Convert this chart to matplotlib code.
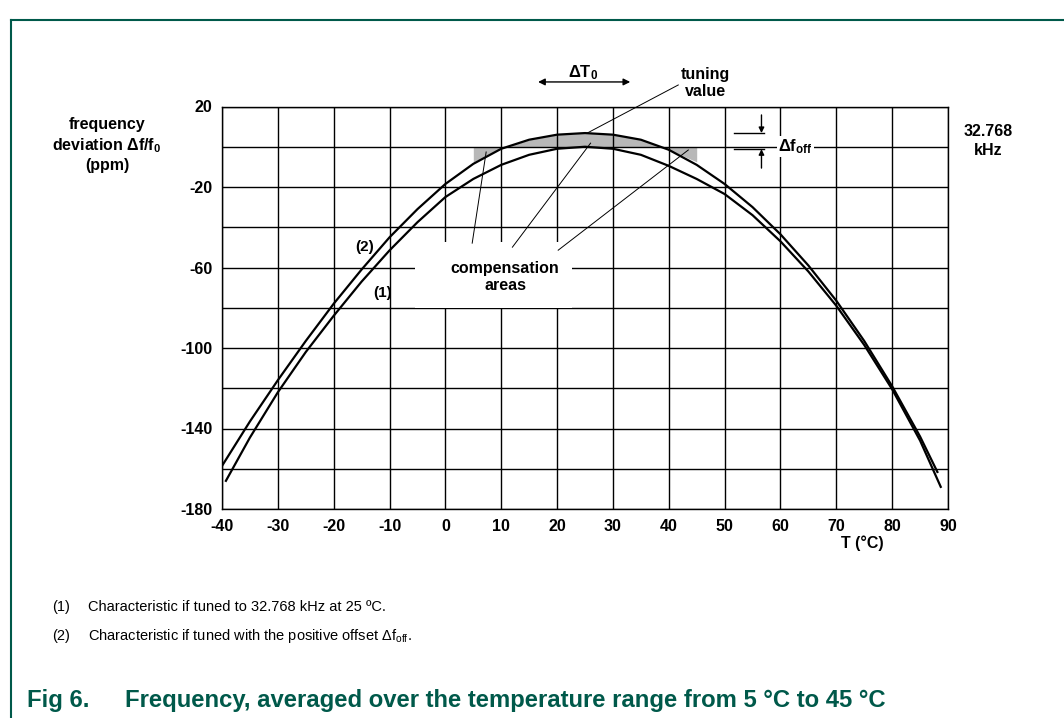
import matplotlib.pyplot as plt
from matplotlib.lines import Line2D
from matplotlib.patches import Rectangle
import numpy as np

plt.rcParams['font.family'] = ['Liberation Sans', 'DejaVu Sans']
plt.rcParams['mathtext.fontset'] = 'custom'
plt.rcParams['mathtext.rm'] = 'Liberation Sans'
plt.rcParams['mathtext.bf'] = 'Liberation Sans:bold'
plt.rcParams['mathtext.it'] = 'Liberation Sans:italic'

# curve (1): tuned to 32.768 kHz at 25 C
temp_1 = [-39.3, -35, -30, -25, -20, -15, -10, -5, 0, 5, 10, 15, 20, 25, 30,
          35, 40, 45, 50, 55, 60, 65, 70, 75, 80, 85, 88.7]
dev_1 = [-166, -144.5, -122, -102, -84, -67, -51.5, -37.5, -25, -16, -9, -4, -1, 0, -1,
         -4, -9.5, -16, -23.5, -34, -47, -62, -79, -98.5, -120.5, -146, -169]
# curve (2): tuned with positive offset
temp_2 = [-40, -35, -30, -25, -20, -15, -10, -5, 0, 5, 10, 15, 20, 25, 30,
          35, 40, 45, 50, 55, 60, 65, 70, 75, 80, 85, 88.1]
dev_2 = [-158.6, -136.5, -116, -96.5, -78, -61, -45, -31, -18.5, -8.5, -1, 3.5, 6, 6.8, 6,
         3.5, -1.5, -9, -18.5, -30, -43.5, -59, -76.5, -96.5, -119, -144, -161.6]

comp_lo, comp_hi = 5, 45          # averaging range
comp_floor = -7.5
xticks = list(range(-40, 91, 10))
xlabels = [str(t) for t in xticks]
yticks = list(range(20, -181, -20))
ylabels = ['20', '', '-20', '', '-60', '', '-100', '', '-140', '', '-180']

green = '#00594a'
W, H = 1064, 718

fig = plt.figure(figsize=(W / 100, H / 100), dpi=100)
ax = fig.add_axes([222 / W, 1 - 509 / H, (948 - 222) / W, (509 - 106.5) / H])

ax.set_xlim(-40, 90)
ax.set_ylim(-180, 20)
ax.set_xticks(xticks)
ax.set_xticklabels(xlabels, fontsize=11.5, fontweight='bold')
ax.set_yticks(yticks)
ax.set_yticklabels(ylabels, fontsize=11.5, fontweight='bold')
ax.tick_params(length=0, pad=7)
ax.grid(True, color='black', linewidth=1.0)
for s in ax.spines.values():
    s.set_linewidth(1.0)

# compensation areas
t2 = np.array(temp_2)
d2 = np.array(dev_2)
m = (t2 >= comp_lo) & (t2 <= comp_hi)
ax.fill_between(t2[m], np.maximum(d2[m], comp_floor), 0, color='#b8b8b8',
                linewidth=0, zorder=0.3)

ax.plot(temp_1, dev_1, color='black', linewidth=1.6, zorder=3)
ax.plot(temp_2, dev_2, color='black', linewidth=1.6, zorder=3)

ax.text(-14.4, -49.9, '(2)', fontsize=11, fontweight='bold', ha='center', va='center')
ax.text(-11.3, -72.8, '(1)', fontsize=11, fontweight='bold', ha='center', va='center')

# white box behind "compensation areas"
ax.add_patch(Rectangle((-5.4, -80.2), 28.1, 32.8, facecolor='white', edgecolor='none', zorder=2))
ax.text(10.7, -64.9, 'compensation\nareas', fontsize=11.5, fontweight='bold',
        ha='center', va='center', linespacing=1.15, zorder=4)
thin = dict(color='black', linewidth=0.7, zorder=4)
ax.plot([4.8, 7.3], [-47.9, -2.6], **thin)
ax.plot([12.0, 26.0], [-49.9, 1.8], **thin)
ax.plot([20.2, 43.5], [-51.4, -1.6], **thin)

# tuning value
ax.text(46.6, 31.7, 'tuning\nvalue', fontsize=11.5, fontweight='bold',
        ha='center', va='center', linespacing=1.15, clip_on=False)
ax.plot([41.7, 25.4], [30.7, 6.8], clip_on=False, **thin)

# delta T0
ax.text(24.7, 36.7, r'$\mathbf{\Delta T}_{\mathbf{0}}$', fontsize=12, ha='center', va='center')
ax.annotate('', xy=(16.6, 32.2), xytext=(33.1, 32.2), annotation_clip=False,
            arrowprops=dict(arrowstyle='<|-|>', color='black', lw=1.0, mutation_scale=10,
                            shrinkA=0, shrinkB=0))

# delta f_off
ax.plot([51.6, 57], [6.8, 6.8], color='black', linewidth=1.0, zorder=4)
ax.plot([51.6, 57], [-1.2, -1.2], color='black', linewidth=1.0, zorder=4)
ax.annotate('', xy=(56.6, 6.8), xytext=(56.6, 15.8),
            arrowprops=dict(arrowstyle='-|>', color='black', lw=1.0, mutation_scale=8,
                            shrinkA=0, shrinkB=0), zorder=4)
ax.annotate('', xy=(56.6, -1.2), xytext=(56.6, -10.6),
            arrowprops=dict(arrowstyle='-|>', color='black', lw=1.0, mutation_scale=8,
                            shrinkA=0, shrinkB=0), zorder=4)
ax.text(59.6, 0, r'$\mathbf{\Delta f}_{\mathbf{off}}$', fontsize=12, ha='left', va='center',
        zorder=4, bbox=dict(facecolor='white', edgecolor='none', pad=1))

# outer labels
fig.text(107 / W, 1 - 145 / H, 'frequency\ndeviation $\\mathbf{\\Delta f/f}_{\\mathbf{0}}$\n(ppm)',
         fontsize=11.5, fontweight='bold', ha='center', va='center', linespacing=1.3)
fig.text(988 / W, 1 - 141 / H, '32.768\nkHz', fontsize=11.5, fontweight='bold',
         ha='center', va='center', linespacing=1.3)
fig.text(862 / W, 1 - 543 / H, 'T (°C)', fontsize=11.5, fontweight='bold',
         ha='center', va='center')

# notes
fig.text(52 / W, 1 - 607 / H, '(1)', fontsize=10.5, va='center')
fig.text(88 / W, 1 - 607 / H, 'Characteristic if tuned to 32.768 kHz at 25 ºC.',
         fontsize=10.5, va='center')
fig.text(52 / W, 1 - 636 / H, '(2)', fontsize=10.5, va='center')
fig.text(88 / W, 1 - 636 / H, r'Characteristic if tuned with the positive offset $\Delta\mathrm{f}_{\mathrm{off}}$.',
         fontsize=10.5, va='center')

# caption
fig.text(27 / W, 1 - 700 / H, 'Fig 6.', fontsize=17.2, fontweight='bold', color=green, va='center')
fig.text(125 / W, 1 - 700 / H, 'Frequency, averaged over the temperature range from 5 °C to 45 °C',
         fontsize=17.2, fontweight='bold', color=green, va='center')

# page frame
fig.add_artist(Line2D([11 / W, 11 / W], [0, 1 - 20 / H], color=green, linewidth=1.5))
fig.add_artist(Line2D([11 / W, 1], [1 - 20 / H, 1 - 20 / H], color=green, linewidth=1.5))

fig.savefig('out.png', dpi=100)
